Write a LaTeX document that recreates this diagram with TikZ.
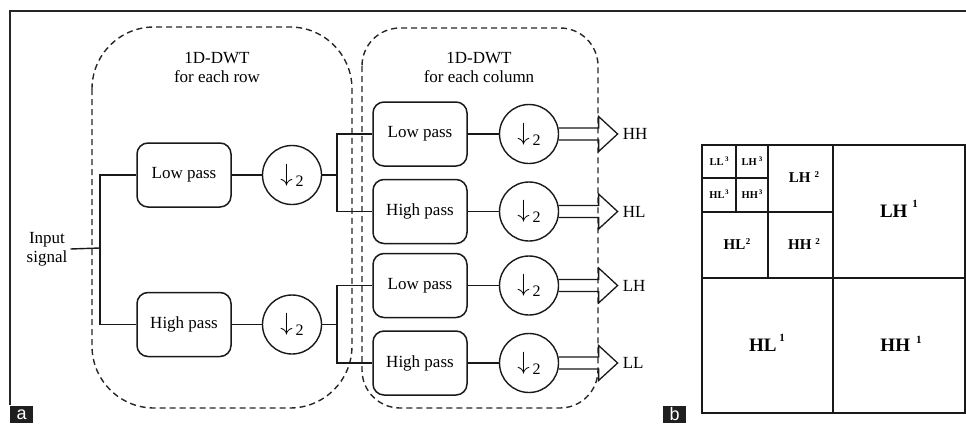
\documentclass[tikz,border=0pt]{standalone}
\usepackage{fontspec}
\setmainfont{Liberation Serif}
\setsansfont{Liberation Sans}
\usetikzlibrary{calc}
\newcommand\dsym{{\fontsize{29}{29}\selectfont$\downarrow$}\hspace{3pt}\raisebox{-5pt}{\fontsize{16}{16}\selectfont 2}}
\newcommand\bandlbl[5]{#1\hspace{#2}\smash{\raisebox{#3}{\fontsize{#4}{#4}\selectfont #5}}}
\begin{document}
\begin{tikzpicture}[x=1pt,y=-1pt,
  filt/.style={draw=black!90, line width=1.5pt, rounded corners=11pt, minimum width=94pt, minimum height=64pt, inner sep=0pt, font=\fontsize{17}{18}\selectfont},
  down/.style={circle, draw=black!90, line width=1.4pt, minimum size=59pt, inner sep=0pt},
  wire/.style={draw=black!90, line width=1.4pt},
  hollow/.style={draw=black!90, line width=1.3pt, line join=miter},
  grp/.style={draw=black!85, line width=1.4pt, dash pattern=on 6pt off 4pt},
  ttl/.style={font=\fontsize{17}{19}\selectfont, align=center, inner sep=3pt},
  outl/.style={font=\fontsize{17}{18}\selectfont, anchor=west, inner sep=2pt},
  frame/.style={draw=black!85, line width=1.3pt},
  grid/.style={draw=black!90, line width=1.9pt},
  b1/.style={font=\bfseries\fontsize{19}{19}\selectfont, inner sep=0pt},
  b2/.style={font=\bfseries\fontsize{15}{15}\selectfont, inner sep=0pt},
  b3/.style={font=\bfseries\fontsize{10.5}{10.5}\selectfont, inner sep=0pt},
  tag/.style={fill=black!88, text=white, font=\sffamily\fontsize{18}{18}\selectfont, minimum width=23pt, minimum height=17.5pt, inner sep=0pt, anchor=north west},
]
\useasboundingbox (0,0) rectangle (966,423);

% frame
\draw[frame] (10,405) -- (10,11) -- (966,11);

% dashed groups
\draw[grp, rounded corners=62pt] (92,27) rectangle (352,408);
\draw[grp, rounded corners=38pt] (362,28) rectangle (598,408);

% titles
\node[ttl] (t1) at (217,67) {1D-DWT\\for each row};
\node[ttl] (t2) at (479,67) {1D-DWT\\for each column};

% input
\node[ttl] (in) at (47,249) {Input\\signal};
\coordinate (j0) at (100,248);

% stage 1
\node[filt] (lp1) at (184,175) {Low pass};
\node[filt] (hp1) at (184,324.5) {High pass};
\node[down] (d1) at (292,175) {\dsym};
\node[down] (d2) at (292,324.5) {\dsym};
\coordinate (j1) at (337,175);
\coordinate (j2) at (337,324.5);

% stage 2
\node[filt] (lp2) at (420,134) {Low pass};
\node[filt] (hp2) at (420,211.5) {High pass};
\node[filt] (lp3) at (420,285.5) {Low pass};
\node[filt] (hp3) at (420,363) {High pass};
\node[down] (c1) at (529,134) {\dsym};
\node[down] (c2) at (529,211.5) {\dsym};
\node[down] (c3) at (529,285.5) {\dsym};
\node[down] (c4) at (529,363) {\dsym};

% wires
\draw[wire] (in.east) -- (j0);
\draw[wire] (lp1.west) -| (j0) |- (hp1.west);
\draw[wire] (lp1) -- (d1);
\draw[wire] (hp1) -- (d2);
\draw[wire] (d1.east) -- (j1);
\draw[wire] (d2.east) -- (j2);
\draw[wire] (lp2.west) -| (j1) |- (hp2.west);
\draw[wire] (lp3.west) -| (j2) |- (hp3.west);
\draw[wire] (lp2) -- (c1);
\draw[wire] (hp2) -- (c2);
\draw[wire] (lp3) -- (c3);
\draw[wire] (hp3) -- (c4);

% hollow output arrows
\foreach \c/\t in {c1/HH, c2/HL, c3/LH, c4/LL}{
  \draw[hollow] ($(\c.east)+(-0.6,-6)$) -- ++(40,0) -- ++(0,-11.5) -- ++(19,17.5)
     coordinate (\c tip) -- ++(-19,17.5) -- ++(0,-11.5) -- ($(\c.east)+(-0.6,6)$);
  \node[outl] (o\c) at ($(\c tip)+(3,0)$) {\t};
}

% panel b grid
\draw[grid] (702,145) rectangle (965,413);
\draw[grid] (833,145) -- (833,413);
\draw[grid] (702,278) -- (965,278);
\draw[grid] (768,145) -- (768,278);
\draw[grid] (702,212) -- (833,212);
\draw[grid] (736,145) -- (736,212);
\draw[grid] (702,178) -- (768,178);

\node[b1] (lh1) at (899,211) {\bandlbl{LH}{5pt}{10pt}{11}{1}};
\node[b1] (hl1) at (767,345) {\bandlbl{HL}{3pt}{10pt}{11}{1}};
\node[b1] (hh1) at (901,345) {\bandlbl{HH}{6pt}{8pt}{11}{1}};
\node[b2] (lh2) at (804,178) {\bandlbl{LH}{4pt}{5pt}{9}{2}};
\node[b2] (hl2) at (737,245) {\bandlbl{HL}{0.5pt}{5pt}{9}{2}};
\node[b2] (hh2) at (804,245) {\bandlbl{HH}{4pt}{5pt}{9}{2}};
\node[b3] (ll3) at (719,162) {\bandlbl{LL}{1.5pt}{4pt}{7}{3}};
\node[b3] (lh3) at (752,162) {\bandlbl{LH}{2pt}{4pt}{7}{3}};
\node[b3] (hl3) at (719,195) {\bandlbl{HL}{0.5pt}{4pt}{7}{3}};
\node[b3] (hh3) at (752,195) {\bandlbl{HH}{1pt}{4pt}{7}{3}};

% panel tags
\node[tag] (ta) at (10,405.5) {a};
\node[tag] (tb) at (663,405.5) {b};
\end{tikzpicture}
\end{document}
